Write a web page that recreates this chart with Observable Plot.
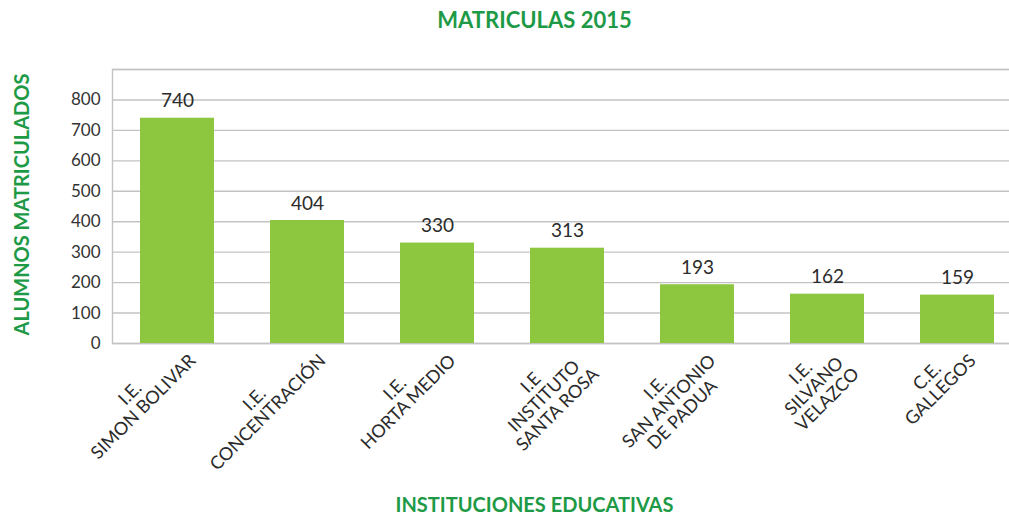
<!DOCTYPE html>
<html>
<head>
<meta charset="utf-8">
<script src="https://cdn.jsdelivr.net/npm/d3@7"></script>
<script src="https://cdn.jsdelivr.net/npm/@observablehq/plot@0.6"></script>
<style>
  body { margin: 0; background: #ffffff; }
</style>
</head>
<body>
<div id="chart"></div>
<script>
// ---- data ----
const categories = [
  "I.E.\nSIMON BOLIVAR",
  "I.E.\nCONCENTRACIÓN",
  "I.E.\nHORTA MEDIO",
  "I.E\nINSTITUTO\nSANTA ROSA",
  "I.E.\nSAN ANTONIO\nDE PADUA",
  "I.E.\nSILVANO\nVELAZCO",
  "C.E.\nGALLEGOS"
];
const values = [740, 404, 330, 313, 193, 162, 159];
const yTickLabels = [0, 100, 200, 300, 400, 500, 600, 700, 800];
const gridValues = [0, 100, 200, 300, 400, 500, 600, 700, 800, 900];
const chartTitle = "MATRICULAS 2015";
const xTitle = "INSTITUCIONES EDUCATIVAS";
const yTitle = "ALUMNOS MATRICULADOS";

const data = categories.map((c, i) => ({name: c, value: values[i]}));

// ---- styling ----
const green = "#1e9a47";
const barColor = "#8dc63f";
const gridColor = "#c3c3c3";
const textColor = "#2b2b2b";
const font = "Lato";

const W = 1009, H = 515;
const ML = 112, MR = -13, MT = 69, MB = 172;

// x tick labels: rotated blocks with centered lines, top-right corner near the tick
const labelSize = 18, labelLH = 1.05;
const ctx = document.createElement("canvas").getContext("2d");
ctx.font = `${labelSize}px ${font}`;
const k = Math.SQRT1_2;
const labelMarks = data.map(d => {
  const lines = d.name.split("\n");
  const w = Math.max(...lines.map(l => ctx.measureText(l).width));
  const h = lines.length * labelLH * labelSize;
  return Plot.text([d], {
    x: "name", text: "name", frameAnchor: "bottom",
    rotate: -45, textAnchor: "middle", lineAnchor: "middle",
    lineHeight: labelLH, fontSize: labelSize, fill: textColor,
    dx: -5 - k * (w - h) / 2, dy: -6 + k * (w + h) / 2
  });
});

const frameCx = (ML + (W - MR)) / 2;
const frameCy = (MT + (H - MB)) / 2;

const chart = Plot.plot({
  width: W, height: H,
  marginLeft: ML, marginRight: MR, marginTop: MT, marginBottom: MB,
  style: {fontFamily: font, fontSize: "17px", color: "#333333", background: "#ffffff"},
  x: {type: "band", domain: categories, paddingInner: 0.43, paddingOuter: 0.215, axis: null},
  y: {domain: [0, 900], ticks: yTickLabels, tickSize: 0, tickPadding: 12, label: null},
  marks: [
    Plot.ruleY(gridValues, {stroke: gridColor, strokeWidth: 1.4}),
    Plot.frame({stroke: gridColor, strokeWidth: 1.4}),
    Plot.barY(data, {x: "name", y: "value", fill: barColor}),
    Plot.text(data, {x: "name", y: "value", text: d => String(d.value), dy: -17, fontSize: 19, fill: textColor}),
    ...labelMarks,
    Plot.text([chartTitle], {text: d => d, frameAnchor: "top", textAnchor: "middle", lineAnchor: "middle",
      dy: 20 - MT, dx: 534 - frameCx, fontSize: 22, fontWeight: "bold", fill: green}),
    Plot.text([xTitle], {text: d => d, frameAnchor: "bottom", textAnchor: "middle", lineAnchor: "middle",
      dy: 505 - (H - MB), dx: 534 - frameCx, fontSize: 20, fontWeight: "bold", fill: green}),
    Plot.text([yTitle], {text: d => d, frameAnchor: "left", textAnchor: "middle", lineAnchor: "middle",
      rotate: -90, dx: 22 - ML, dy: 204 - frameCy, fontSize: 20, fontWeight: "bold", fill: green})
  ]
});
document.getElementById("chart").appendChild(chart);
</script>
</body>
</html>
